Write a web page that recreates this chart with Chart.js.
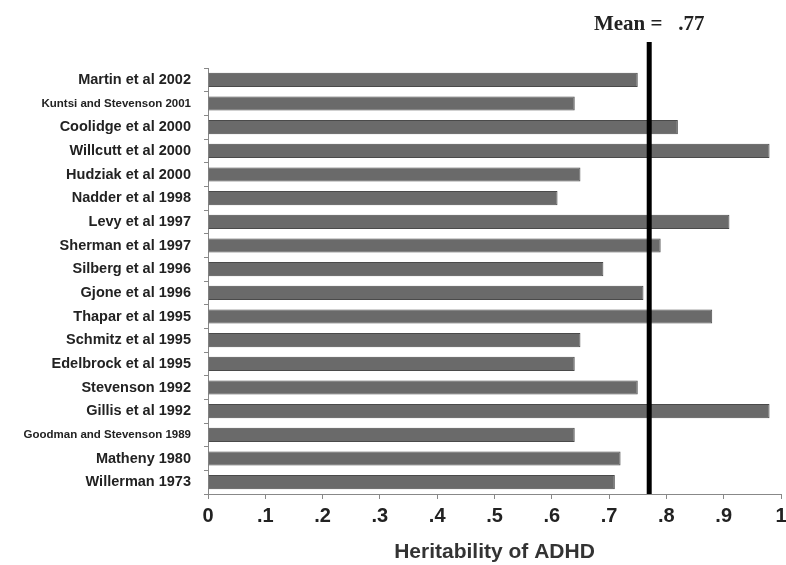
<!DOCTYPE html>
<html>
<head>
<meta charset="utf-8">
<script src="https://cdn.jsdelivr.net/npm/chart.js@4"></script>
<style>
html,body{margin:0;padding:0;background:#fff;}
#wrap{width:786px;height:565px;position:relative;}
</style>
</head>
<body>
<div id="wrap"><canvas id="c"></canvas></div>
<script>
const studies = ["Martin et al 2002","Kuntsi and Stevenson 2001","Coolidge et al 2000","Willcutt et al 2000","Hudziak et al 2000","Nadder et al 1998","Levy et al 1997","Sherman et al 1997","Silberg et al 1996","Gjone et al 1996","Thapar et al 1995","Schmitz et al 1995","Edelbrock et al 1995","Stevenson 1992","Gillis et al 1992","Goodman and Stevenson 1989","Matheny 1980","Willerman 1973"];
const heritability = [0.75,0.64,0.82,0.98,0.65,0.61,0.91,0.79,0.69,0.76,0.88,0.65,0.64,0.75,0.98,0.64,0.72,0.71];
const smallLabels = ["Kuntsi and Stevenson 2001","Goodman and Stevenson 1989"];
const meanValue = 0.77;
const meanLabel = "Mean =   .77";
const xTickLabels = {0:"0",0.1:".1",0.2:".2",0.3:".3",0.4:".4",0.5:".5",0.6:".6",0.7:".7",0.8:".8",0.9:".9",1:"1"};
const xTitle = "Heritability of ADHD";

const meanPlugin = {
  id:'meanLine',
  afterDatasetsDraw(chart){
    const ctx = chart.ctx, xs = chart.scales.x, area = chart.chartArea;
    const px = xs.getPixelForValue(meanValue);
    ctx.save();
    ctx.fillStyle = '#000';
    ctx.fillRect(px-2.5, 42, 5, area.bottom-42);
    ctx.font = 'bold 21px "Liberation Serif", "Times New Roman", serif';
    ctx.fillStyle = '#222';
    ctx.textAlign = 'center';
    ctx.textBaseline = 'alphabetic';
    ctx.fillText(meanLabel, px, 30);
    ctx.restore();
  }
};

new Chart(document.getElementById('c'), {
  type:'bar',
  data:{labels:studies, datasets:[{data:heritability, backgroundColor:'#6a6a6a', borderColor:'#4a4a4a', borderWidth:1, barPercentage:0.6, categoryPercentage:1}]},
  options:{
    indexAxis:'y', responsive:true, maintainAspectRatio:false, animation:false,
    layout:{padding:{top:68,right:5,left:0,bottom:0}},
    plugins:{legend:{display:false}, tooltip:{enabled:false}},
    scales:{
      x:{min:0,max:1,
        ticks:{stepSize:0.1,autoSkip:false,maxRotation:0,color:'#222',padding:5,
          font:{family:'"Liberation Sans", Arial, sans-serif',size:20,weight:'bold'},
          callback:(v)=>{const k=Math.round(v*10)/10; return xTickLabels[k]!==undefined?xTickLabels[k]:'';}},
        grid:{drawOnChartArea:false,tickLength:5,color:'#888'},
        border:{color:'#888',width:1},
        title:{display:true,text:xTitle,color:'#333',padding:{top:4,bottom:0},
          font:{family:'"Liberation Sans", Arial, sans-serif',size:21,weight:'bold'}},
        afterFit:(s)=>{s.height=71; s.paddingRight=0; s.paddingLeft=0;}
      },
      y:{
        ticks:{autoSkip:false,color:'#222',padding:13,
          font:(ctx)=>({family:'"Liberation Sans", Arial, sans-serif',size:smallLabels.includes(studies[ctx.index])?11.5:14.5,weight:'bold'})},
        grid:{drawOnChartArea:false,tickLength:4,offset:true,color:'#888'},
        border:{color:'#888',width:1},
        afterFit:(s)=>{s.width=208; s.paddingTop=0; s.paddingBottom=0;}
      }
    }
  },
  plugins:[meanPlugin]
});
</script>
</body>
</html>
